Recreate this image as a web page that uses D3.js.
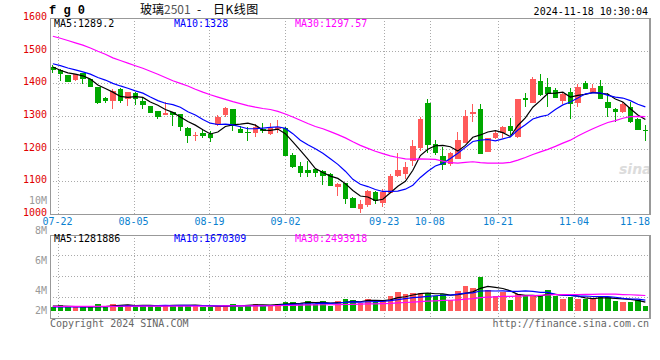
<!DOCTYPE html>
<html>
<head>
<meta charset="utf-8">
<script src="https://cdn.jsdelivr.net/npm/d3@7"></script>
<style>
body { margin:0; background:#fff; }
text { font-family:"DejaVu Sans Mono", monospace; font-size:10px; }
</style>
</head>
<body>
<div id="chart"></div>
<script>
// trading days shown (07-19 .. 11-18)
const dates = ["07-19","07-22","07-23","07-24","07-25","07-26","07-29","07-30","07-31",
  "08-01","08-02","08-05","08-06","08-07","08-08","08-09","08-12","08-13","08-14","08-15","08-16",
  "08-19","08-20","08-21","08-22","08-23","08-26","08-27","08-28","08-29","08-30",
  "09-02","09-03","09-04","09-05","09-06","09-09","09-10","09-11","09-12","09-13",
  "09-18","09-19","09-20","09-23","09-24","09-25","09-26","09-27","09-30",
  "10-08","10-09","10-10","10-11","10-14","10-15","10-16","10-17","10-18",
  "10-21","10-22","10-23","10-24","10-25","10-28","10-29","10-30","10-31",
  "11-01","11-04","11-05","11-06","11-07","11-08","11-11","11-12","11-13","11-14","11-15","11-18"];

const open = [1451,1441,1425,1410,1431,1412,1388,1355,1347,1384,
  1351,1369,1346,1330,1315,1304,1313,1305,1264,1240,
  1249,1244,1271,1303,1321,1261,1252,1249,1259,1245,
  1259,1264,1181,1147,1135,1138,1132,1121,1084,1094,
  1050,1015,1028,1066,1035,1065,1116,1123,1161,1201,
  1341,1213,1178,1153,1169,1218,1305,1321,1191,1232,
  1247,1269,1235,1355,1341,1407,1388,1380,1347,1372,
  1341,1400,1374,1392,1343,1321,1313,1327,1291,1257];
const high = [1455,1443,1426,1430,1432,1413,1389,1359,1382,1386,
  1375,1374,1354,1332,1316,1343,1313,1306,1265,1251,
  1257,1255,1303,1329,1322,1270,1265,1275,1278,1278,
  1288,1267,1188,1159,1162,1139,1134,1124,1094,1094,
  1052,1043,1073,1071,1077,1122,1188,1160,1227,1298,
  1351,1227,1206,1190,1252,1318,1337,1337,1234,1257,
  1270,1293,1353,1371,1420,1429,1415,1385,1372,1385,
  1398,1407,1398,1410,1369,1325,1344,1344,1294,1272];
const low = [1433,1408,1403,1408,1397,1389,1336,1339,1321,1341,
  1331,1334,1322,1308,1292,1303,1269,1255,1218,1224,
  1234,1221,1269,1296,1255,1247,1224,1237,1247,1242,
  1247,1178,1141,1114,1112,1112,1090,1086,1055,1030,
  1017,1002,1022,1030,1022,1063,1114,1106,1147,1193,
  1186,1181,1135,1147,1167,1216,1283,1183,1189,1230,
  1232,1242,1232,1329,1339,1361,1329,1354,1337,1292,
  1329,1382,1369,1351,1298,1283,1308,1278,1256,1224];
const close = [1441,1428,1405,1428,1412,1390,1341,1347,1377,1347,
  1373,1351,1335,1310,1296,1309,1303,1267,1240,1242,
  1240,1234,1298,1324,1269,1249,1251,1265,1253,1264,
  1267,1179,1143,1124,1127,1124,1117,1087,1092,1047,
  1019,1031,1070,1039,1066,1117,1135,1145,1208,1291,
  1212,1188,1149,1188,1227,1300,1313,1184,1232,1247,
  1267,1255,1352,1349,1413,1364,1367,1356,1367,1337,
  1388,1384,1386,1352,1325,1313,1338,1282,1257,1254];

const ma5 = [1450,1440,1432,1428,1423,1413,1395,1384,1373,1360,
  1357,1359,1357,1343,1333,1320,1311,1297,1283,1272,
  1258,1245,1251,1268,1273,1275,1278,1272,1257,1256,
  1260,1246,1221,1195,1168,1139,1127,1116,1109,1093,
  1072,1055,1052,1041,1045,1065,1085,1100,1134,1179,
  1198,1209,1210,1206,1193,1210,1235,1242,1251,1255,
  1249,1237,1271,1294,1327,1347,1369,1370,1373,1358,
  1363,1366,1372,1369,1367,1352,1343,1322,1303,1289];
const ma10 = [1460,1454,1447,1441,1435,1428,1418,1410,1400,1392,
  1385,1377,1370,1358,1347,1339,1335,1327,1313,1303,
  1289,1278,1274,1275,1273,1267,1261,1261,1263,1265,
  1267,1262,1246,1226,1212,1200,1186,1169,1152,1131,
  1106,1091,1084,1075,1069,1069,1070,1076,1088,1112,
  1131,1147,1155,1170,1186,1204,1222,1226,1228,1224,
  1230,1236,1257,1273,1291,1298,1303,1320,1334,1343,
  1355,1368,1371,1371,1363,1358,1355,1347,1336,1328];
const ma30 = [1544,1538,1531,1524,1517,1508,1498,1489,1478,1470,
  1462,1454,1446,1437,1428,1418,1408,1400,1392,1382,
  1373,1365,1358,1351,1344,1338,1332,1327,1323,1320,
  1314,1306,1297,1287,1277,1268,1261,1252,1243,1233,
  1221,1210,1201,1192,1185,1178,1173,1169,1168,1169,
  1168,1167,1162,1157,1156,1158,1160,1157,1156,1156,
  1156,1158,1165,1173,1182,1190,1198,1207,1217,1226,
  1239,1250,1261,1271,1280,1286,1293,1298,1299,1298];

// volume in 10k lots
const volume = [63,88,54,54,54,54,102,58,102,88,
  88,54,88,88,63,88,88,88,88,73,
  63,54,63,88,102,63,88,102,88,88,
  102,131,131,112,146,97,146,73,146,175,
  161,122,175,136,161,219,277,248,263,263,
  263,224,248,161,292,365,336,501,307,224,
  277,161,248,224,224,234,307,224,175,204,
  175,175,175,224,204,146,136,136,156,73];
const vma5 = [70,70,68,66,62,60,63,64,74,81,
  88,78,84,81,76,76,83,83,83,85,
  80,73,68,68,74,74,81,89,89,86,
  93,102,108,113,125,124,127,115,122,127,
  140,135,156,154,151,162,194,208,234,254,
  263,252,252,232,238,258,280,331,360,346,
  329,294,243,227,227,218,247,242,233,229,
  217,191,181,191,191,185,177,169,156,129];
const vma10 = [60,60,60,60,61,62,63,64,66,72,
  74,71,74,77,78,82,80,83,82,80,
  78,78,75,75,79,77,77,78,78,80,
  84,92,98,101,105,108,114,111,117,126,
  132,131,135,138,139,151,165,182,194,203,
  213,223,230,233,246,260,266,292,296,292,
  293,287,287,293,287,273,271,243,230,228,
  218,219,212,212,210,201,184,175,173,160];
const vma30 = [68,68,68,68,68,68,68,68,68,69,
  69,70,70,70,70,71,71,71,72,72,
  72,73,73,74,74,75,75,76,76,77,
  79,80,83,85,88,89,91,91,92,95,
  98,100,103,105,108,112,119,124,130,136,
  143,148,155,157,163,173,182,195,202,207,
  213,214,218,221,224,228,234,239,240,241,
  241,243,243,246,247,245,240,237,233,226];

const priceTicks = [1600,1500,1400,1300,1200,1100,1000];
const volTickVals = [10,8,6,4,2];
const volTickText = ["10M","8M","6M","4M","2M"];
const dateTicks = ["07-22","08-05","08-19","09-02","09-23","10-08","10-21","11-04","11-18"];
const maText = ["MA5:1289.2","MA10:1328","MA30:1297.57"];
const vmaText = ["MA5:1281886","MA10:1670309","MA30:2493918"];

const W = 660, H = 360;
const L = 50, R = 650;
const mainTop = 18, mainBot = 214;
const volTop = 234.5, volBot = 318, volBase = 311;
const red = "#ff5a5a", green = "#00a800";
const maColors = ["#000000","#0000ff","#ff00ff"];

const svg = d3.select("#chart").append("svg")
  .attr("width", W).attr("height", H)
  .style("background", "#fff");

const x = d3.scaleBand().domain(dates).range([L, R])
  .paddingInner(0.24).paddingOuter(0.12).align(0);
const xg = d3.scalePoint().domain(dates).range([L, R]);
const y = d3.scaleLinear().domain([1000, 1600]).range([mainBot, mainTop]);
const yv = d3.scaleLinear().domain([0, 584]).range([volBase, volBase - 40]);
// sina puts its volume labels at its own spots
const yvLabel = d3.scaleLinear().domain([2,4,6,8,10]).range([314,293.5,264,234,203.5]);

const bw = x.bandwidth();
const cx = d => Math.floor(x(d) + bw / 2) + 0.5;

// grid
const grid = svg.append("g").attr("stroke", "#aaa").attr("stroke-dasharray", "1,2")
  .attr("shape-rendering", "crispEdges");
priceTicks.slice(1, -1).forEach(v => {
  const yy = Math.round(y(v)) + 0.5;
  grid.append("line").attr("x1", L).attr("x2", R).attr("y1", yy).attr("y2", yy);
});
d3.range(1, 4).forEach(i => {
  const yy = Math.round(volTop + i * (volBot - volTop) / 4) + 0.5;
  grid.append("line").attr("x1", L).attr("x2", R).attr("y1", yy).attr("y2", yy);
});
dateTicks.slice(0, -1).forEach(d => {
  const xx = Math.round(xg(d)) + 0.5;
  grid.append("line").attr("x1", xx).attr("x2", xx).attr("y1", mainTop).attr("y2", mainBot);
  grid.append("line").attr("x1", xx).attr("x2", xx).attr("y1", volTop).attr("y2", volBot);
});

// watermark
svg.append("text").attr("x", 619).attr("y", 174)
  .style("font-family", "'DejaVu Sans', sans-serif").style("font-size", "14px")
  .style("font-weight", "bold").style("font-style", "italic")
  .attr("fill", "#dcdcdc").text("sina");

// candles
const candles = svg.append("g").attr("shape-rendering", "crispEdges");
dates.forEach((d, i) => {
  const col = close[i] >= open[i] ? red : green;
  candles.append("line")
    .attr("x1", cx(d)).attr("x2", cx(d))
    .attr("y1", y(high[i])).attr("y2", y(low[i]))
    .attr("stroke", col);
  const top = y(Math.max(open[i], close[i]));
  const h = Math.max(1, Math.abs(y(open[i]) - y(close[i])));
  candles.append("rect")
    .attr("x", x(d)).attr("y", top)
    .attr("width", bw).attr("height", h)
    .attr("fill", col);
});

// volume bars
const vbars = svg.append("g").attr("shape-rendering", "crispEdges");
dates.forEach((d, i) => {
  vbars.append("rect")
    .attr("x", x(d)).attr("y", yv(volume[i]))
    .attr("width", bw).attr("height", volBase - yv(volume[i]))
    .attr("fill", close[i] >= open[i] ? red : green);
});

// MA lines
const priceLine = d3.line().x((v, i) => x(dates[i]) + bw / 2).y(v => y(v));
const volLine = d3.line().x((v, i) => x(dates[i]) + bw / 2).y(v => yv(v));
[ma5, ma10, ma30].forEach((s, k) => {
  svg.append("path").attr("d", priceLine(s)).attr("fill", "none")
    .attr("stroke", maColors[k]).attr("stroke-width", 1.2);
});
[vma5, vma10, vma30].forEach((s, k) => {
  svg.append("path").attr("d", volLine(s)).attr("fill", "none")
    .attr("stroke", maColors[k]).attr("stroke-width", 1.2);
});

// borders
const border = svg.append("g").attr("stroke", "#999").attr("fill", "none")
  .attr("shape-rendering", "crispEdges");
border.append("rect").attr("x", L + 0.5).attr("y", mainTop + 0.5)
  .attr("width", R - L - 1).attr("height", mainBot - mainTop);
border.append("rect").attr("x", L + 0.5).attr("y", volTop + 0.5)
  .attr("width", R - L - 1).attr("height", volBot - volTop);
border.append("line").attr("x1", R).attr("x2", R).attr("y1", mainTop).attr("y2", mainBot + 1);
border.append("line").attr("x1", R).attr("x2", R).attr("y1", volTop).attr("y2", volBot + 1);

// axis labels
svg.append("g").selectAll("text").data(priceTicks).enter().append("text")
  .attr("x", 47).attr("y", d => y(d) + 2)
  .attr("text-anchor", "end").attr("fill", "#e00000")
  .text(d => d);
svg.append("g").selectAll("text").data(volTickVals).enter().append("text")
  .attr("x", 47).attr("y", d => yvLabel(d))
  .attr("text-anchor", "end").attr("fill", "#999")
  .text((d, i) => volTickText[i]);
svg.append("g").selectAll("text").data(dateTicks).enter().append("text")
  .attr("x", (d, i) => i === dateTicks.length - 1 ? R : xg(d))
  .attr("y", 225)
  .attr("text-anchor", (d, i) => i === dateTicks.length - 1 ? "end" : "middle")
  .attr("fill", "#0a7fd0")
  .text(d => d);

// header
svg.append("text").attr("x", 49).attr("y", 14)
  .style("font-family", "'Liberation Mono', monospace").style("font-size", "12px")
  .style("font-weight", "bold").text("f g 0");
const titleFont = "'Noto Sans CJK SC', sans-serif";
const title = svg.append("text").attr("x", 140).attr("y", 14)
  .style("font-family", titleFont).style("font-size", "12px");
title.append("tspan").text("玻璃");
title.append("tspan").attr("fill", "#555").text("2501");
svg.append("text").attr("x", 197).attr("y", 14)
  .style("font-family", titleFont).style("font-size", "12px").text("-");
svg.append("text").attr("x", 213).attr("y", 14)
  .style("font-family", titleFont).style("font-size", "12px")
  .style("letter-spacing", "0.5px").text("日K线图");
svg.append("text").attr("x", 648).attr("y", 15).attr("text-anchor", "end")
  .text("2024-11-18 10:30:04");

[54, 174, 295].forEach((xx, k) => {
  svg.append("text").attr("x", xx).attr("y", 27).attr("fill", maColors[k]).text(maText[k]);
  svg.append("text").attr("x", xx).attr("y", 242).attr("fill", maColors[k]).text(vmaText[k]);
});

// footer
svg.append("text").attr("x", 50).attr("y", 327).attr("fill", "#666")
  .text("Copyright 2024 SINA.COM");
svg.append("text").attr("x", 649).attr("y", 327).attr("fill", "#666")
  .attr("text-anchor", "end").text("http://finance.sina.com.cn");
</script>
</body>
</html>
